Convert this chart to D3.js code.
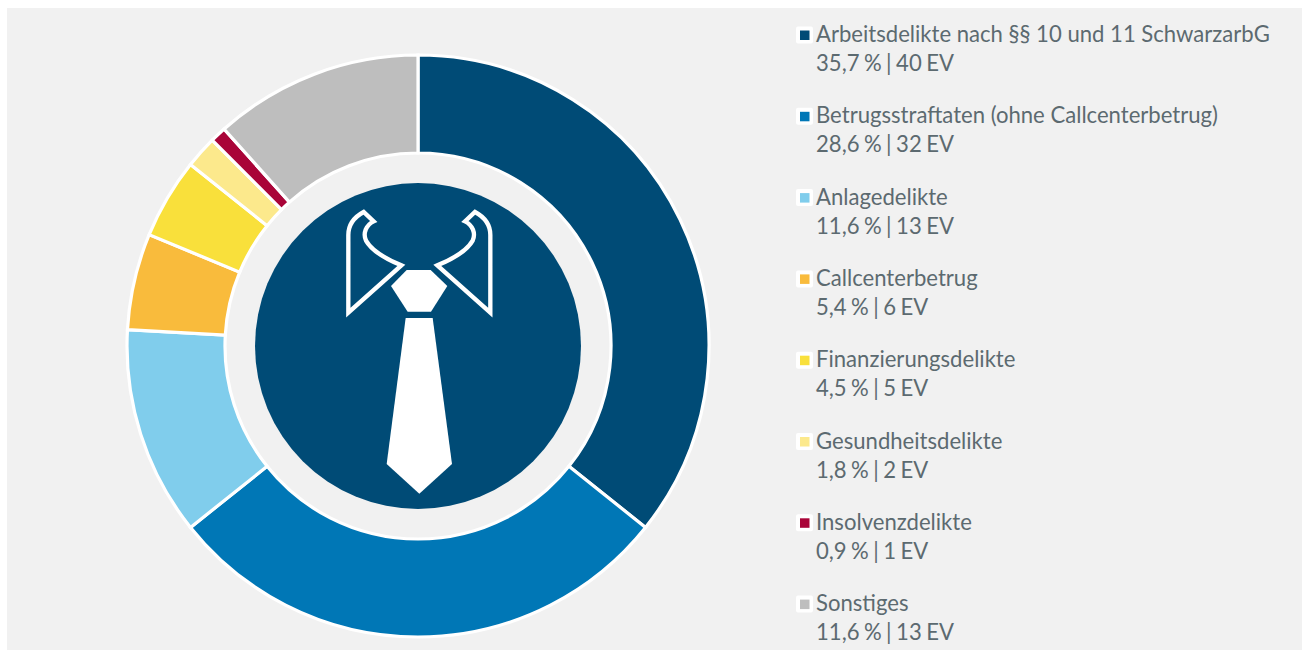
<!DOCTYPE html>
<html><head><meta charset="utf-8">
<script src="https://cdn.jsdelivr.net/npm/d3@7"></script>
<style>html,body{margin:0;padding:0;background:#fff}svg{display:block}</style>
</head><body><svg id="c" width="1303" height="650"></svg>
<script>
const categories=["Arbeitsdelikte nach §§ 10 und 11 SchwarzarbG","Betrugsstraftaten (ohne Callcenterbetrug)","Anlagedelikte","Callcenterbetrug","Finanzierungsdelikte","Gesundheitsdelikte","Insolvenzdelikte","Sonstiges"];
const counts=[40,32,13,6,5,2,1,13];
const shares=["35,7","28,6","11,6","5,4","4,5","1,8","0,9","11,6"];
const colors=["#004b76","#0077b6","#80cdec","#f9bb3c","#f9e03b","#fce98c","#a90438","#bebebe"];

const svg=d3.select("#c");
svg.append("rect").attr("x",7).attr("y",8).attr("width",1295).attr("height",642).attr("fill","#f1f1f1");

const cx=418,cy=346,outer=291,inner=193;
const pie=d3.pie().sort(null).value(d=>d);
const arc=d3.arc().innerRadius(inner).outerRadius(outer);
const g=svg.append("g").attr("transform",`translate(${cx},${cy})`);
g.selectAll("path").data(pie(counts)).join("path")
 .attr("d",arc).attr("fill",(d,i)=>colors[i]).attr("stroke","#fff").attr("stroke-width",3.2).attr("stroke-linejoin","miter");
g.append("circle").attr("r",163).attr("fill","#004b76");

// Tie icon (decoration), in reference zoom units
const icon=svg.append("g").attr("transform","translate(240,180) scale(0.33333)");
icon.append("path").attr("fill","#fff").attr("d","M500,270L572,270L622,318L573,395L503,395L453,318Z");
icon.append("path").attr("fill","#fff").attr("d","M497,414L578,414L636,852L538,941L440,852Z");
const collar="M325,398L325,165C325,130 345,110 371,96L401,124C378,135 368,160 378,182C395,212 440,238 484,256Z";
for(const t of [null,"translate(1076,0) scale(-1,1)"]){
  const p=icon.append("path").attr("d",collar).attr("fill","none").attr("stroke","#fff").attr("stroke-width",13).attr("stroke-miterlimit",6);
  if(t)p.attr("transform",t);
}

// Legend
const step=81.3;
const leg=svg.append("g");
const rows=leg.selectAll("g").data(categories).join("g").attr("transform",(d,i)=>`translate(0,${i*step})`);
rows.append("rect").attr("x",796).attr("y",26.5).attr("width",17).attr("height",17).attr("rx",2).attr("fill","#fff");
rows.append("rect").attr("x",800).attr("y",30.5).attr("width",9.5).attr("height",9.5).attr("fill",(d,i)=>colors[i]);
const font="Lato,sans-serif",size=22.1;
rows.append("text").attr("x",816).attr("y",42).attr("font-family",font).attr("font-size",size).attr("fill","#5c6a70").text(d=>d);
rows.append("text").attr("x",816).attr("y",71).attr("font-family",font).attr("font-size",size).attr("word-spacing",-1.2).attr("fill","#5c6a70")
 .text((d,i)=>`${shares[i]} % | ${counts[i]} EV`);
</script></body></html>
